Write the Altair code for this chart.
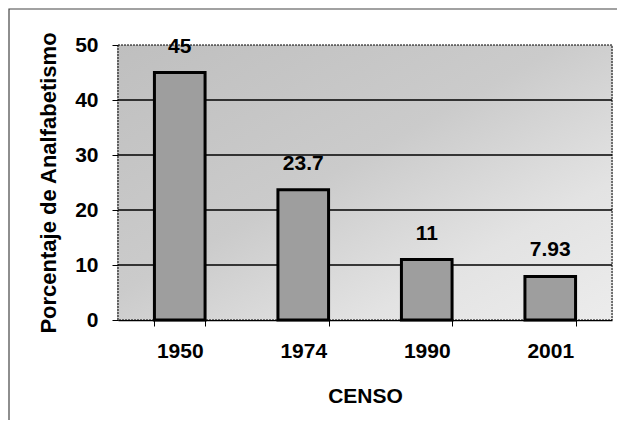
import altair as alt
import pandas as pd

censo = ["1950", "1974", "1990", "2001"]
porcentaje = [45, 23.7, 11, 7.93]
etiquetas = ["45", "23.7", "11", "7.93"]
grid_vals = [10, 20, 30, 40]

df = pd.DataFrame({"CENSO": censo, "valor": porcentaje, "etiqueta": etiquetas})
grid_df = pd.DataFrame({"valor": grid_vals})
one = pd.DataFrame({"a": [0]})

W, H = 494, 275
FONT = "Liberation Sans"

xaxis = alt.Axis(labelAngle=0, tickBand="extent", tickSize=6, tickColor="black",
                 domainColor="black", domainWidth=1.5, labelPadding=14,
                 labelFont=FONT, labelFontSize=21, labelFontWeight="bold", labelColor="black",
                 titleFont=FONT, titleFontSize=21, titleFontWeight="bold", titleColor="black",
                 titlePadding=24)
xscale = alt.Scale(paddingInner=0.59, paddingOuter=0.295)
yscale = alt.Scale(domain=[0, 50], nice=False)
yaxis = alt.Axis(values=[0, 10, 20, 30, 40, 50], grid=False, tickSize=6, tickColor="black",
                 domainColor="black", domainWidth=1.5, labelPadding=14,
                 labelFont=FONT, labelFontSize=21, labelFontWeight="bold", labelColor="black",
                 titleFont=FONT, titleFontSize=22, titleFontWeight="bold", titleColor="black",
                 titlePadding=14)
YT = "Porcentaje de Analfabetismo"


def xe():
    return alt.X("CENSO:N", sort=censo, title="CENSO", scale=xscale, axis=xaxis)


def ye():
    return alt.Y("valor:Q", scale=yscale, title=YT, axis=yaxis)


frame = alt.Chart(one).mark_rect(fill=None, stroke="#444444", strokeWidth=1.2).encode(
    x=alt.value(-109), x2=alt.value(W + 60), y=alt.value(-36), y2=alt.value(H + 250)
)

bg = alt.Chart(one).mark_rect(
    fill=alt.Gradient(gradient="linear", x1=0, y1=0, x2=1, y2=1,
                      stops=[alt.GradientStop(color="#bfbfbf", offset=0),
                             alt.GradientStop(color="#cbcbcb", offset=0.45),
                             alt.GradientStop(color="#e3e3e3", offset=0.75),
                             alt.GradientStop(color="#ececec", offset=1)]),
    stroke="black", strokeWidth=1, strokeDash=[2, 1]
).encode(x=alt.value(0), x2=alt.value(W), y=alt.value(0), y2=alt.value(H))

grid = alt.Chart(grid_df).mark_rule(color="black", strokeWidth=1.5).encode(
    y=ye(), x=alt.value(0), x2=alt.value(W)
)

bars = alt.Chart(df).mark_bar(fill="#9e9e9e", stroke="black", strokeWidth=3).encode(
    x=xe(), y=ye()
)

labels = alt.Chart(df).mark_text(
    dy=-20, baseline="alphabetic", font=FONT, fontSize=21, fontWeight="bold", color="black"
).encode(x=xe(), y=ye(), text="etiqueta:N")

chart = alt.layer(frame, bg, grid, bars, labels).properties(
    width=W, height=H, autosize=alt.AutoSizeParams(type="none"),
    padding={"left": 110, "top": 37, "right": 5, "bottom": 100}
).configure_view(stroke=None).configure(background="white")

chart.save("out.html", embed_options={"renderer": "svg", "actions": False})
